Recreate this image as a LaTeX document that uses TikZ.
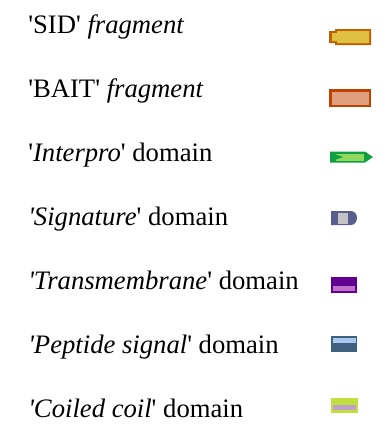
\documentclass[tikz,border=0pt]{standalone}
\usepackage{fontspec}
\newfontfamily\lib{Liberation Serif}
\definecolor{sidb}{HTML}{C06000}
\definecolor{sidf}{HTML}{E0C040}
\definecolor{baitb}{HTML}{C04000}
\definecolor{baitf}{HTML}{E0A080}
\definecolor{ipd}{HTML}{10A040}
\definecolor{ipl}{HTML}{90D860}
\definecolor{sigd}{HTML}{5A5E8C}
\definecolor{sigl}{HTML}{C4C4C4}
\definecolor{tmd}{HTML}{600090}
\definecolor{tml}{HTML}{C070C8}
\definecolor{psd}{HTML}{406080}
\definecolor{psl}{HTML}{A8C8F0}
\definecolor{ccd}{HTML}{C0E040}
\definecolor{ccl}{HTML}{C0A0C8}
\begin{document}
\begin{tikzpicture}[x=0.75pt,y=-0.75pt,
  lbl/.style={anchor=base west, inner sep=0pt, font=\lib\fontsize{20}{24}\selectfont}]
\useasboundingbox (0,0) rectangle (387,436);
% labels
\node[lbl] (t1) at (28,33) {'SID' \textit{fragment}};
\node[lbl] (t2) at (28,97) {'BAIT' \textit{fragment}};
\node[lbl] (t3) at (28,161) {'\textit{Interpro}' domain};
\node[lbl] (t4) at (28,225) {\textit{'Signature}' domain};
\node[lbl] (t5) at (28,289) {\textit{'Transmembrane}' domain};
\node[lbl] (t6) at (28,353) {\textit{'Peptide signal}' domain};
\node[lbl] (t7) at (28,417) {\textit{'Coiled coil}' domain};
% SID icon
\fill[sidb] (329,31) -- (335,31) -- (335,29) -- (371,29) -- (371,45) -- (335,45) -- (335,43) -- (329,43) -- cycle;
\fill[sidf] (332,33) -- (337,33) -- (337,31) -- (369,31) -- (369,43) -- (337,43) -- (337,41) -- (332,41) -- cycle;
% BAIT icon
\fill[baitb] (329,89) rectangle (371,107);
\fill[baitf] (332,91.5) rectangle (369,104.5);
% Interpro icon
\fill[ipd] (330,151.5) -- (365,151.5) -- (373,157) -- (365,162.5) -- (330,162.5) -- cycle;
\fill[ipl] (336,153.5) rectangle (364,160.5);
\fill[ipd] (336,154.5) -- (343,157) -- (336,159.5) -- cycle;
% Signature icon
\fill[sigd] (331,211) -- (351,211) arc[start angle=-90,end angle=90,x radius=6,y radius=7] -- (331,225) -- cycle;
\fill[sigl] (337.5,212.5) rectangle (347.5,223.5);
% Transmembrane icon
\fill[tmd] (331,277) rectangle (357,293);
\fill[tml] (333,286) rectangle (355,291);
% Peptide signal icon
\fill[psd] (331,336) rectangle (357,352);
\fill[psl] (332.5,337.5) rectangle (355.5,343);
% Coiled coil icon
\fill[ccd] (331,397.5) rectangle (358,412.5);
\fill[ccl] (333,405) rectangle (356,410);
\end{tikzpicture}
\end{document}
